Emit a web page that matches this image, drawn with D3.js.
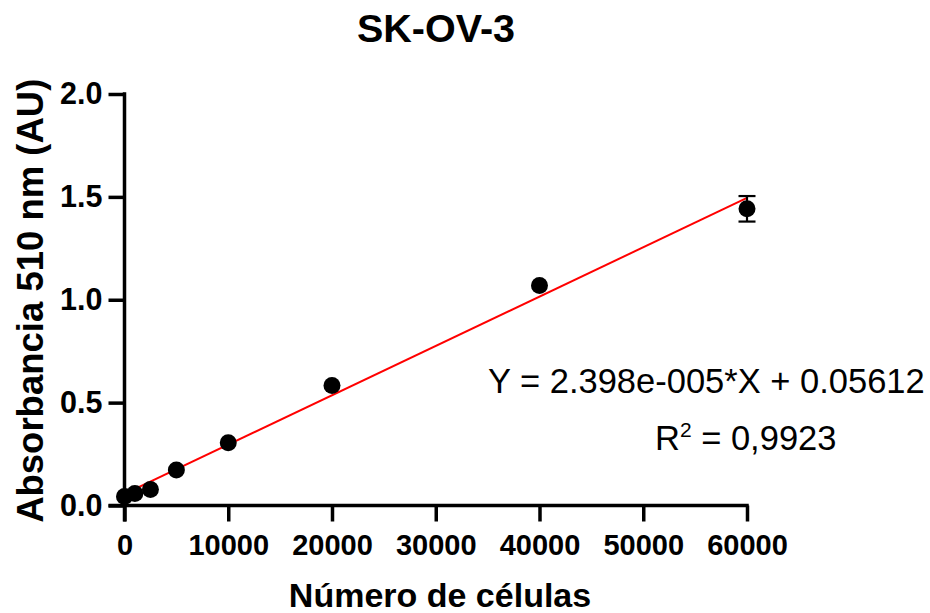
<!DOCTYPE html>
<html>
<head>
<meta charset="utf-8">
<script src="https://cdn.jsdelivr.net/npm/d3@7"></script>
<style>
  html, body { margin: 0; padding: 0; background: #fff; }
  svg { display: block; font-family: "Liberation Sans", Arial, Helvetica, sans-serif; }
</style>
</head>
<body>
<svg id="chart" width="930" height="613"></svg>
<script>
// Standard curve: cell number vs absorbance (mean ± SEM)
const cells = [0, 1000, 2500, 5000, 10000, 20000, 40000, 60000];
const absorbance = [0.044, 0.058, 0.078, 0.173, 0.305, 0.583, 1.069, 1.442];
const sem = [0, 0, 0, 0, 0, 0, 0, 0.062];
const xTicks = [0, 10000, 20000, 30000, 40000, 50000, 60000];
const yTicks = [0.0, 0.5, 1.0, 1.5, 2.0];
// Linear fit
const slope = 2.398e-5;
const intercept = 0.05612;
const fitLabel = "Y = 2.398e-005*X + 0.05612";
const r2Value = "0,9923";

const svg = d3.select("#chart");
const x = d3.scaleLinear().domain([0, 60000]).range([124.5, 747]);
const y = d3.scaleLinear().domain([0, 2]).range([505.5, 94]);
const tickLen = 16;
const axisW = 3.5;

// Title
svg.append("text").attr("x", 436).attr("y", 42).attr("text-anchor", "middle")
  .attr("font-size", 39.5).attr("font-weight", "bold").text("SK-OV-3");

// X axis
const gx = svg.append("g").attr("transform", `translate(0,${y(0)})`)
  .call(d3.axisBottom(x).tickValues(xTicks).tickFormat(d3.format("d")).tickSizeOuter(0).tickSize(tickLen).tickPadding(13));
gx.select(".domain").remove();
gx.selectAll(".tick line").attr("stroke", "#000").attr("stroke-width", axisW);
gx.selectAll(".tick text").attr("font-size", 29).attr("font-weight", "bold").attr("fill", "#000")
  .attr("font-family", "Liberation Sans, Arial, sans-serif");
svg.append("line").attr("x1", x(0) - tickLen).attr("x2", x(60000) + axisW / 2)
  .attr("y1", y(0)).attr("y2", y(0)).attr("stroke", "#000").attr("stroke-width", axisW);

// Y axis
const gy = svg.append("g").attr("transform", `translate(${x(0)},0)`)
  .call(d3.axisLeft(y).tickValues(yTicks).tickFormat(d3.format(".1f")).tickSizeOuter(0).tickSize(tickLen).tickPadding(6));
gy.select(".domain").remove();
gy.selectAll(".tick line").attr("stroke", "#000").attr("stroke-width", axisW);
gy.selectAll(".tick text").attr("font-size", 30.5).attr("font-weight", "bold").attr("fill", "#000")
  .attr("font-family", "Liberation Sans, Arial, sans-serif");
svg.append("line").attr("x1", x(0)).attr("x2", x(0))
  .attr("y1", y(0) + tickLen).attr("y2", y(2) - axisW / 2).attr("stroke", "#000").attr("stroke-width", axisW);

// Axis titles
svg.append("text").attr("x", 440).attr("y", 607).attr("text-anchor", "middle")
  .attr("font-size", 34).attr("font-weight", "bold").text("Número de células");
svg.append("text").attr("transform", `translate(43,${(y(0) + y(2)) / 2 + 1}) rotate(-90)`)
  .attr("text-anchor", "middle").attr("font-size", 36.5).attr("font-weight", "bold")
  .text("Absorbancia 510 nm (AU)");

// Regression line
const fitX = [0, 60000];
svg.append("line")
  .attr("x1", x(fitX[0])).attr("y1", y(slope * fitX[0] + intercept))
  .attr("x2", x(fitX[1])).attr("y2", y(slope * fitX[1] + intercept))
  .attr("stroke", "#ff0000").attr("stroke-width", 2);

// Error bars
const data = cells.map((c, i) => ({ c, a: absorbance[i], e: sem[i] }));
const eb = svg.append("g").selectAll("g").data(data.filter(d => d.e > 0)).join("g")
  .attr("stroke", "#000").attr("stroke-width", 2.2);
eb.append("line").attr("x1", d => x(d.c)).attr("x2", d => x(d.c))
  .attr("y1", d => y(d.a - d.e)).attr("y2", d => y(d.a + d.e));
eb.append("line").attr("x1", d => x(d.c) - 8.5).attr("x2", d => x(d.c) + 8.5)
  .attr("y1", d => y(d.a + d.e)).attr("y2", d => y(d.a + d.e));
eb.append("line").attr("x1", d => x(d.c) - 8.5).attr("x2", d => x(d.c) + 8.5)
  .attr("y1", d => y(d.a - d.e)).attr("y2", d => y(d.a - d.e));

// Points
svg.append("g").selectAll("circle").data(data).join("circle")
  .attr("cx", d => x(d.c)).attr("cy", d => y(d.a)).attr("r", 8.5).attr("fill", "#000");

// Fit annotation
svg.append("text").attr("x", 488).attr("y", 393).attr("font-size", 34.5).text(fitLabel);
const r2 = svg.append("text").attr("x", 655).attr("y", 450).attr("font-size", 34.5);
r2.append("tspan").text("R");
r2.append("tspan").attr("dy", -13).attr("font-size", 21).text("2");
r2.append("tspan").attr("dy", 13).text(" = " + r2Value);
</script>
</body>
</html>
